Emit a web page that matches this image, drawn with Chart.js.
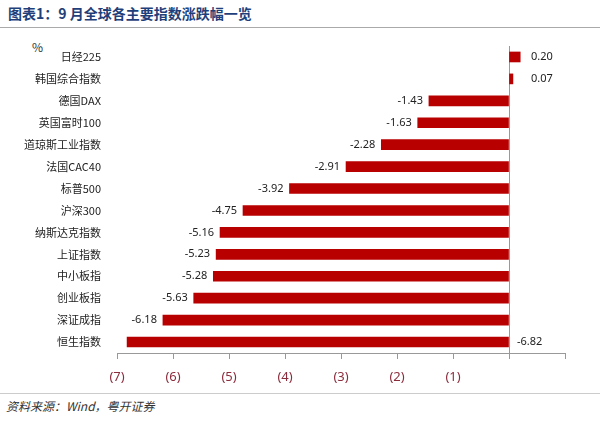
<!DOCTYPE html>
<html>
<head>
<meta charset="utf-8">
<script src="https://cdn.jsdelivr.net/npm/chart.js@4"></script>
<style>
  body { margin: 0; width: 600px; height: 422px; background: #fff; position: relative; overflow: hidden;
         font-family: "Noto Sans CJK SC", "Noto Sans", sans-serif; }
  #title { position: absolute; left: 8px; top: 3px; font-size: 14px; font-weight: bold; color: #1f3f7a; }
  #rule1 { position: absolute; left: 0; top: 27px; width: 600px; height: 1px; background: #aaa; }
  #unit { position: absolute; left: 32px; top: 38px; font-size: 12px; color: #333; }
  #rule2 { position: absolute; left: 0; top: 393px; width: 600px; height: 1px; background: #ccc; }
  #src { position: absolute; left: 6px; top: 397px; font-size: 12px; font-style: italic; color: #333; }
  #box { position: absolute; left: 0; top: 30px; width: 600px; height: 360px; }
</style>
</head>
<body>
<div id="title">图表1：9 月全球各主要指数涨跌幅一览</div>
<div id="rule1"></div>
<div id="unit">%</div>
<div id="box"><canvas id="c"></canvas></div>
<div id="rule2"></div>
<div id="src">资料来源：Wind，粤开证券</div>
<script>
const categories = ['日经225', '韩国综合指数', '德国DAX', '英国富时100', '道琼斯工业指数', '法国CAC40',
  '标普500', '沪深300', '纳斯达克指数', '上证指数', '中小板指', '创业板指', '深证成指', '恒生指数'];
const changes = [0.20, 0.07, -1.43, -1.63, -2.28, -2.91, -3.92, -4.75, -5.16, -5.23, -5.28, -5.63, -6.18, -6.82];

const valueLabels = {
  id: 'valueLabels',
  afterDatasetsDraw(chart) {
    const ctx = chart.ctx;
    const meta = chart.getDatasetMeta(0);
    const x0 = chart.scales.x.getPixelForValue(0);
    ctx.save();
    ctx.font = '11px "Noto Sans", sans-serif';
    ctx.fillStyle = '#222';
    ctx.textBaseline = 'middle';
    meta.data.forEach((bar, i) => {
      const v = changes[i];
      const txt = v.toFixed(2);
      if (v >= 0) {
        ctx.textAlign = 'left';
        ctx.fillText(txt, x0 + 22, bar.y);
      } else if (i === changes.length - 1) {
        ctx.textAlign = 'left';
        ctx.fillText(txt, x0 + 8, bar.y);
      } else {
        ctx.textAlign = 'right';
        ctx.fillText(txt, bar.x - 6, bar.y);
      }
    });
    ctx.restore();
  }
};

new Chart(document.getElementById('c'), {
  type: 'bar',
  data: {
    labels: categories,
    datasets: [{ data: changes, backgroundColor: '#b80000', barThickness: 10 }]
  },
  options: {
    indexAxis: 'y',
    responsive: true,
    maintainAspectRatio: false,
    animation: false,
    layout: { padding: { top: 16, right: 35, left: 0, bottom: 0 } },
    plugins: { legend: { display: false }, tooltip: { enabled: false } },
    scales: {
      x: {
        min: -7, max: 1,
        ticks: {
          stepSize: 1, padding: 10, color: '#8b2c3c',
          font: { size: 13, family: '"Noto Sans", sans-serif' },
          callback: v => v < 0 ? '(' + (-v) + ')' : ''
        },
        grid: {
          color: ctx => ctx.tick && ctx.tick.value === 0 ? '#999' : 'transparent',
          tickColor: '#999', tickLength: 6
        },
        border: { color: '#999' },
        afterFit: s => { s.height = 37; }
      },
      y: {
        ticks: { color: '#222', font: { size: 11, family: '"Noto Sans CJK SC", sans-serif' }, padding: 8 },
        grid: { display: false },
        border: { display: false },
        afterFit: s => { s.width = 117; }
      }
    }
  },
  plugins: [valueLabels]
});
</script>
</body>
</html>
